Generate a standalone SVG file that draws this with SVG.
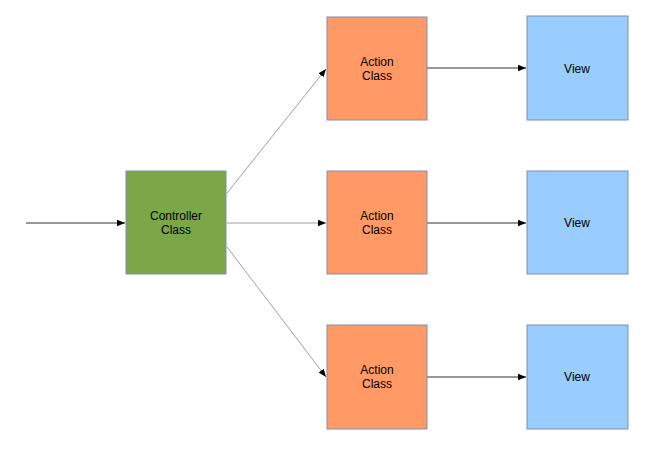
<svg xmlns="http://www.w3.org/2000/svg" width="653" height="451" viewBox="0 0 653 451">
<style>
.box{stroke:#7f8fb0;stroke-width:1}
.ctrl{fill:#7ba748}
.act{fill:#ff9966}
.view{fill:#99ccff}
.lbl{font-family:"Liberation Sans",Arial,sans-serif;font-size:12px;fill:#000;text-anchor:middle}
.dark{stroke:#333;stroke-width:1;fill:none}
.light{stroke:#888;stroke-width:0.8;fill:none}
</style>
<defs>
<marker id="ah" viewBox="0 0 10 10" refX="10" refY="5" markerWidth="8" markerHeight="8" markerUnits="userSpaceOnUse" orient="auto">
<path d="M0,1 L10,5 L0,9 Z" fill="#000"/>
</marker>
</defs>
<rect width="653" height="451" fill="#fff"/>
<g id="connectors">
<line class="dark" x1="26" y1="223" x2="125" y2="223" marker-end="url(#ah)"/>
<line class="light" x1="227" y1="193" x2="326" y2="69" marker-end="url(#ah)"/>
<line class="light" x1="227" y1="223" x2="326" y2="223" marker-end="url(#ah)"/>
<line class="light" x1="227" y1="247" x2="326" y2="377" marker-end="url(#ah)"/>
<line class="dark" x1="427" y1="68" x2="526" y2="68" marker-end="url(#ah)"/>
<line class="dark" x1="427" y1="223" x2="526" y2="223" marker-end="url(#ah)"/>
<line class="dark" x1="427" y1="377" x2="526" y2="377" marker-end="url(#ah)"/>
</g>
<g id="controller">
<rect class="box ctrl" x="126" y="171" width="100" height="103"/>
<text class="lbl" x="176" y="220">Controller</text>
<text class="lbl" x="176" y="234">Class</text>
</g>
<g id="action1">
<rect class="box act" x="327" y="17" width="100" height="103"/>
<text class="lbl" x="377" y="66">Action</text>
<text class="lbl" x="377" y="80">Class</text>
</g>
<g id="action2">
<rect class="box act" x="327" y="171" width="100" height="103"/>
<text class="lbl" x="377" y="220">Action</text>
<text class="lbl" x="377" y="234">Class</text>
</g>
<g id="action3">
<rect class="box act" x="327" y="325" width="100" height="104"/>
<text class="lbl" x="377" y="374">Action</text>
<text class="lbl" x="377" y="388">Class</text>
</g>
<g id="view1">
<rect class="box view" x="527" y="16" width="101" height="104"/>
<text class="lbl" x="577" y="73">View</text>
</g>
<g id="view2">
<rect class="box view" x="527" y="171" width="101" height="103"/>
<text class="lbl" x="577" y="227">View</text>
</g>
<g id="view3">
<rect class="box view" x="527" y="325" width="101" height="104"/>
<text class="lbl" x="577" y="381">View</text>
</g>
</svg>
